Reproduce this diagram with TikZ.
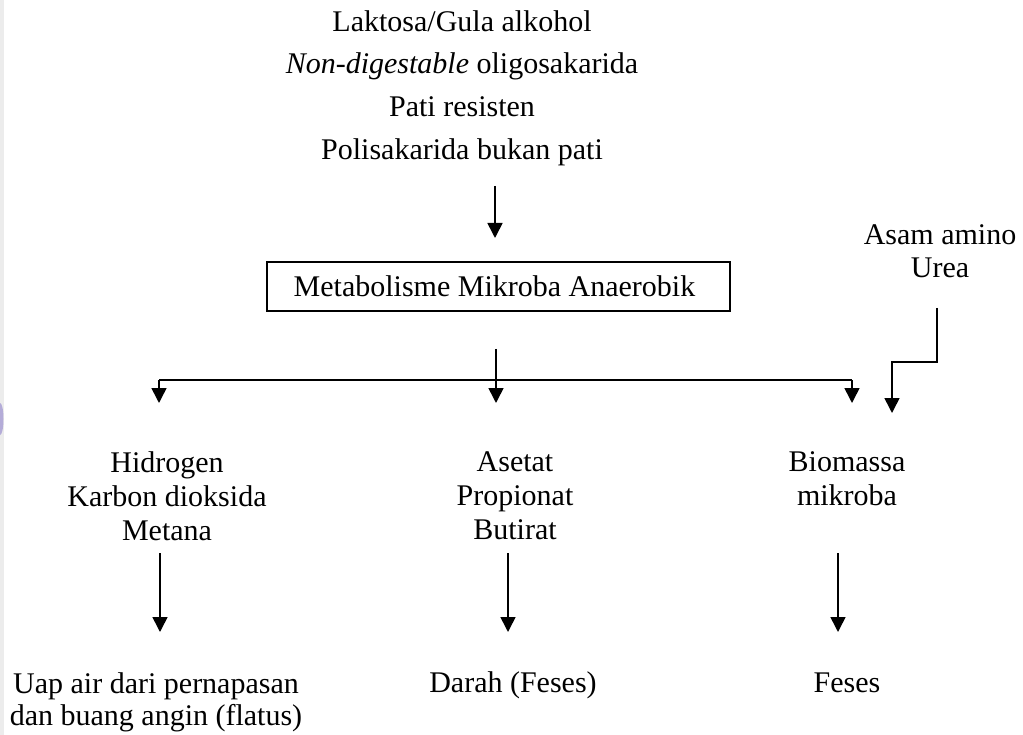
\documentclass[tikz,border=0pt]{standalone}
\usepackage{fontspec}
\setmainfont{Liberation Serif}
\usetikzlibrary{arrows.meta}
\definecolor{wmark}{RGB}{180,172,216}
\begin{document}
\begin{tikzpicture}[x=1pt,y=-1pt,
  lbl/.style={anchor=base,inner sep=0pt,font=\fontsize{30}{34}\selectfont},
  conn/.style={line width=1.6pt,-{Triangle[width=15pt,length=15pt]}},
  plain/.style={line width=1.6pt},
  boxnode/.style={draw,line width=1.6pt,minimum width=463pt,minimum height=49pt,inner sep=0pt,font=\fontsize{30}{34}\selectfont}]
\useasboundingbox (0,0) rectangle (1023,735);
% left edge marks
\fill[gray!15] (0,0) rectangle (4,735);
\fill[wmark] (0,403) arc (-90:90:3.5 and 16) -- cycle;
% top sources
\node[lbl] (t1) at (462,32) {Laktosa/Gula alkohol};
\node[lbl] (t2) at (462,74) {\textit{Non-digestable} oligosakarida};
\node[lbl] (t3) at (462,117) {Pati resisten};
\node[lbl] (t4) at (462,160) {Polisakarida bukan pati};
% box
\node[boxnode] (box) at (498.5,286.5) {\hspace*{-8pt}Metabolisme Mikroba Anaerobik};
% side input
\node[lbl] (aa) at (940,245) {Asam amino};
\node[lbl] (ur) at (940,278) {Urea};
% products
\node[lbl] (h1) at (167,472) {Hidrogen};
\node[lbl] (h2) at (167,506) {Karbon dioksida};
\node[lbl] (h3) at (167,540) {Metana};
\node[lbl] (s1) at (515,471) {Asetat};
\node[lbl] (s2) at (515,505) {Propionat};
\node[lbl] (s3) at (515,539) {Butirat};
\node[lbl] (b1) at (847,471) {Biomassa};
\node[lbl] (b2) at (847,505) {mikroba};
% destinations
\node[lbl] (u1) at (156,693) {Uap air dari pernapasan};
\node[lbl] (u2) at (156,725) {dan buang angin (flatus)};
\node[lbl] (d1) at (513,692) {Darah (Feses)};
\node[lbl] (f1) at (847,692) {Feses};
% coordinates
\coordinate (a0s) at (495,186);
\coordinate (a0e) at (495,238);
\coordinate (m0) at (496,349);
\coordinate (m1) at (496,403);
\coordinate (jl) at (159,380);
\coordinate (jr) at (852,380);
\coordinate (l1) at (159,403);
\coordinate (r1) at (852,403);
\coordinate (us) at (937,308);
\coordinate (ub) at (937,362);
\coordinate (uc) at (892,362);
\coordinate (ue) at (892,413);
\coordinate (p1s) at (160,553);
\coordinate (p1e) at (160,632);
\coordinate (p2s) at (508,553);
\coordinate (p2e) at (508,632);
\coordinate (p3s) at (838,553);
\coordinate (p3e) at (838,632);
% connectors
\draw[conn] (a0s) -- (a0e);
\draw[conn] (m0) -- (m1);
\draw[plain] (jl) -- (jr);
\draw[conn] (jl) -- (l1);
\draw[conn] (jr) -- (r1);
\draw[conn] (us) -- (ub) -- (uc) -- (ue);
\draw[conn] (p1s) -- (p1e);
\draw[conn] (p2s) -- (p2e);
\draw[conn] (p3s) -- (p3e);
\end{tikzpicture}
\end{document}
